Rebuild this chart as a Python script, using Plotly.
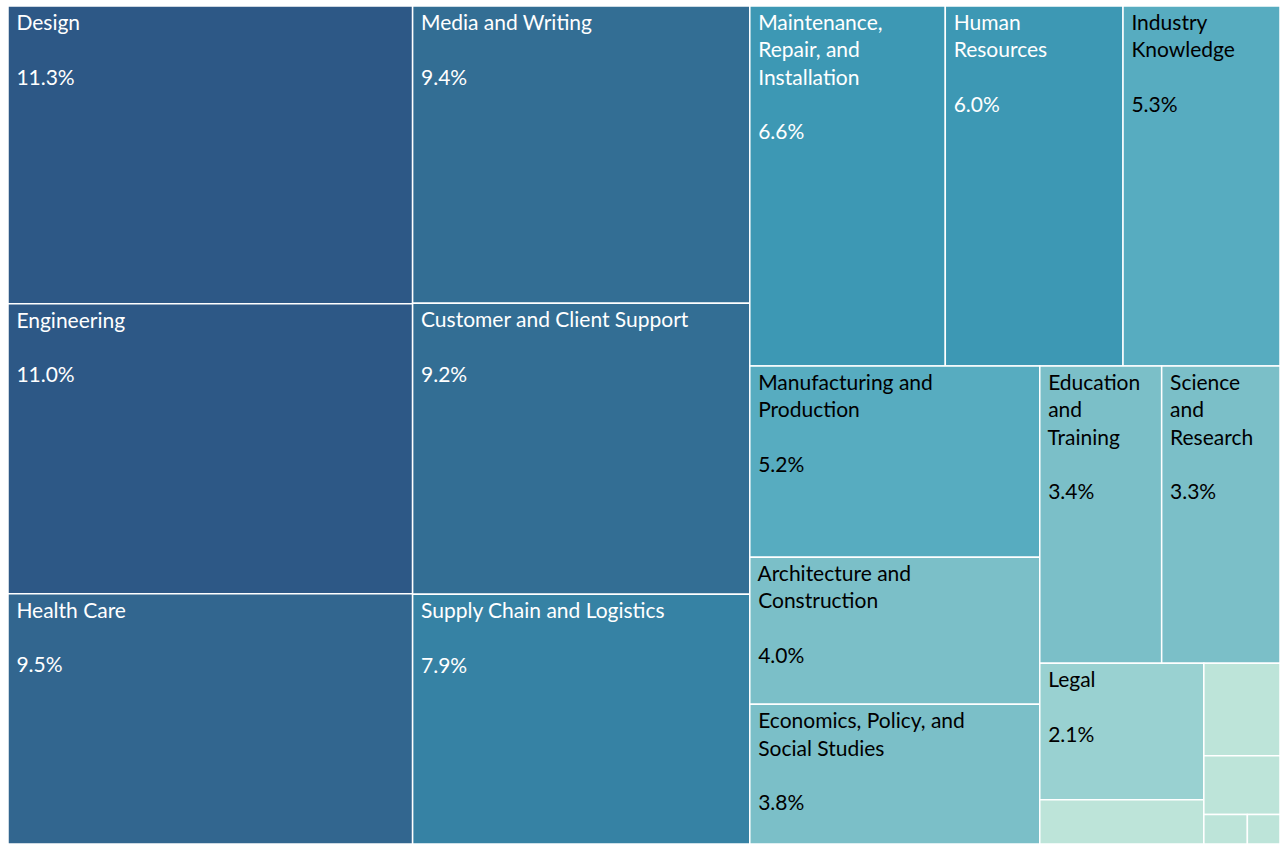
import plotly.graph_objects as go

categories = [
    "Design", "Engineering", "Health Care", "Media and Writing",
    "Customer and Client Support", "Supply Chain and Logistics",
    "Maintenance, Repair, and Installation", "Human Resources",
    "Industry Knowledge", "Manufacturing and Production",
    "Architecture and Construction", "Economics, Policy, and Social Studies",
    "Education and Training", "Science and Research", "Legal",
    "Other 1", "Other 2", "Other 3", "Other 4", "Other 5",
]
shares = [11.3, 11.0, 9.5, 9.4, 9.2, 7.9, 6.6, 6.0, 5.3, 5.2, 4.0, 3.8,
          3.4, 3.3, 2.1, 0.68, 0.66, 0.42, 0.12, 0.09]
display_labels = [
    "Design", "Engineering", "Health Care", "Media and Writing",
    "Customer and Client Support", "Supply Chain and Logistics",
    "Maintenance,<br>Repair, and<br>Installation", "Human<br>Resources",
    "Industry<br>Knowledge", "Manufacturing and<br>Production",
    "Architecture and<br>Construction", "Economics, Policy, and<br>Social Studies",
    "Education<br>and<br>Training", "Science<br>and<br>Research", "Legal",
    "", "", "", "", "",
]
tile_colors = [
    "#2D5886", "#2D5886", "#32668F", "#336E94", "#336E94", "#3682A4",
    "#3D98B4", "#3D98B4", "#57ACC0", "#57ACC0", "#7BBFC8", "#7BBFC8",
    "#7BBFC8", "#7BBFC8", "#99D1D1", "#BDE4D9", "#BDE4D9", "#BDE4D9",
    "#BDE4D9", "#BDE4D9",
]
text_colors = ["white"] * 8 + ["black"] * 12

pad = "\u00a0"


def make_text(lab, v):
    if not lab:
        return ""
    lines = lab.split("<br>") + ["", f"{v:.1f}%"]
    return "<br>".join(pad + ln if ln else ln for ln in lines)


texts = [make_text(lab, v) for lab, v in zip(display_labels, shares)]

fig = go.Figure(go.Treemap(
    labels=categories,
    parents=[""] * len(categories),
    values=shares,
    text=texts,
    texttemplate="%{text}",
    textposition="top left",
    textfont=dict(family="Lato, Open Sans, sans-serif", size=21, color=text_colors),
    marker=dict(colors=tile_colors, line=dict(color="white", width=1.5),
                pad=dict(t=0, l=0, r=0, b=0)),
    tiling=dict(packing="squarify", squarifyratio=1.618, pad=0),
    pathbar=dict(visible=False),
    sort=True,
    hoverinfo="label+value",
))

fig.update_layout(
    width=1280, height=844,
    margin=dict(l=8, t=6, r=0, b=0),
    paper_bgcolor="white",
)

fig.write_html(
    "out.html",
    config={"displayModeBar": False},
    post_script="document.body.style.margin='0';document.body.style.overflow='hidden';",
)
